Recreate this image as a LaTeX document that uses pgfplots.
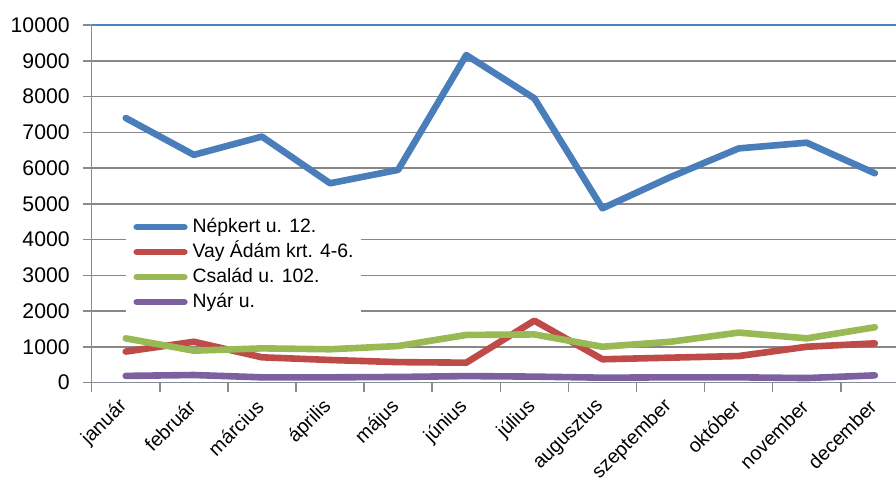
\documentclass[border=0pt]{standalone}
\usepackage{fontspec}
\setmainfont{Liberation Sans}
\usepackage{pgfplots}
\usepackage{pgfplotstable}
\pgfplotsset{compat=1.18}

\definecolor{sBlue}{HTML}{4A7EBB}
\definecolor{sRed}{HTML}{BE4B48}
\definecolor{sGreen}{HTML}{98B954}
\definecolor{sPurple}{HTML}{7D60A0}
\definecolor{gridGray}{HTML}{878787}
\definecolor{axisGray}{HTML}{868C96}
\definecolor{topBlue}{HTML}{4F81BD}

% monthly values per site; idx = category centre
\pgfplotstableread{
idx   nep   vay   csa   nyar
0.5   7400  870   1240  190
1.5   6370  1145  895   215
2.5   6880  710   960   150
3.5   5575  635   935   150
4.5   5950  575   1025  160
5.5   9160  560   1335  185
6.5   7950  1735  1350  170
7.5   4875  655   1005  140
8.5   5750  700   1145  150
9.5   6550  745   1400  150
10.5  6710  1005  1240  130
11.5  5855  1100  1550  205
}\consumption

\begin{document}
\begin{tikzpicture}
\useasboundingbox (-45.85pt,-50.15pt) rectangle (402.15pt,191.35pt);
\clip (-45.85pt,-50.15pt) rectangle (402.15pt,191.35pt);
\begin{axis}[
  scale only axis, width=408.6pt, height=178.85pt,
  xmin=0, xmax=12, ymin=0, ymax=10000,
  axis x line=bottom, axis y line=left,
  axis line style={axisGray, line width=0.75pt, -},
  tick align=outside,
  major tick length=4.5pt,
  tick style={axisGray, line width=0.75pt},
  ytick={0,1000,...,10000},
  scaled y ticks=false,
  ymajorgrids,
  grid style={gridGray, line width=0.75pt},
  xtick={0,1,...,12},
  xticklabels={\empty},
  extra x ticks={0.5,1.5,...,11.5},
  extra x tick labels={január,február,március,április,május,június,július,augusztus,szeptember,október,november,december},
  extra x tick style={major tick length=0pt, grid=none,
    tick label style={xshift=1.5pt, yshift=-8pt, rotate=45, anchor=east,
      font=\fontsize{9.8}{11}\selectfont}},
  y tick label style={font=\fontsize{10.6}{12}\selectfont, xshift=-3pt},
  /pgf/number format/assume math mode=true,
  /pgf/number format/1000 sep={},
  clip=false,
  legend cell align=left,
  legend image code/.code={\draw[#1] (1.6pt,0pt) -- (25.4pt,0pt);},
  legend style={at={(axis description cs:0.042,0.474)}, anchor=north west,
    draw=none, fill=white, inner xsep=3.5pt, inner ysep=1.5pt,
    font=\fontsize{9.7}{11}\selectfont, row sep=2pt,
    nodes={inner sep=0pt, text height=8pt, text depth=2.5pt},
    /tikz/every odd column/.append style={column sep=2.5pt}},
  every axis plot/.append style={line width=3.3pt, line join=round, line cap=round},
  after end axis/.code={\draw[topBlue, line width=0.7pt] (rel axis cs:0,1) -- (rel axis cs:1,1);},
]
\addplot[sBlue] table[x=idx, y=nep] {\consumption};
\addlegendentry{Népkert u. 12.}
\addplot[sRed] table[x=idx, y=vay] {\consumption};
\addlegendentry{Vay Ádám krt. 4-6.}
\addplot[sGreen] table[x=idx, y=csa] {\consumption};
\addlegendentry{Család u. 102.}
\addplot[sPurple] table[x=idx, y=nyar] {\consumption};
\addlegendentry{Nyár u.}
\end{axis}
\end{tikzpicture}
\end{document}
